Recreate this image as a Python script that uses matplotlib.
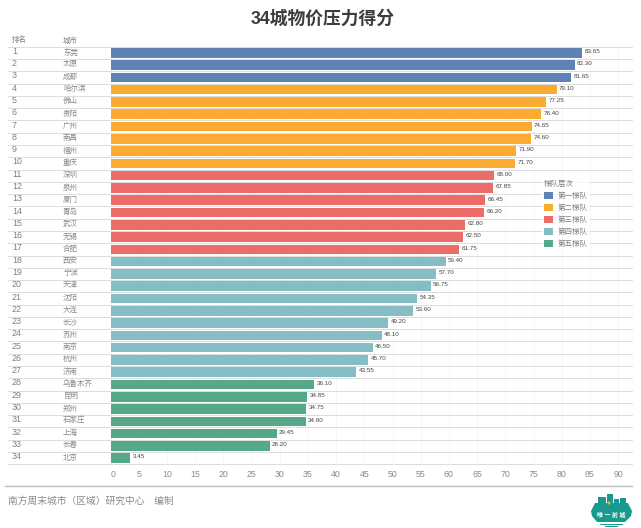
import matplotlib
matplotlib.use("Agg")
import matplotlib.pyplot as plt
from matplotlib.patches import Patch, Polygon, Rectangle, Circle

plt.rcParams['font.family'] = ['Liberation Sans', 'Noto Sans CJK SC', 'DejaVu Sans']

W, H = 641, 528
title = "34城物价压力得分"
cities = ["东莞","太原","成都","哈尔滨","佛山","贵阳","广州","南昌","福州","重庆","深圳","泉州",
          "厦门","青岛","武汉","无锡","合肥","西安","宁波","天津","沈阳","大连","长沙","苏州",
          "南京","杭州","济南","乌鲁木齐","昆明","郑州","石家庄","上海","长春","北京"]
values = [83.65,82.30,81.65,79.10,77.25,76.40,74.65,74.60,71.90,71.70,68.00,67.85,
          66.45,66.20,62.80,62.50,61.75,59.40,57.70,56.75,54.35,53.60,49.20,48.10,
          46.50,45.70,43.55,36.10,34.85,34.75,34.60,29.45,28.20,3.45]
tier_names = ["第一梯队","第二梯队","第三梯队","第四梯队","第五梯队"]
tier_counts = [3,7,7,10,7]
tier_colors = ["#5f82b4","#fbab32","#ec6d68","#85bdc5","#55a988"]
x_ticks = list(range(0,95,5))

fig = plt.figure(figsize=(W/100,H/100),dpi=100,facecolor="white")

# Plot area pixels: x=0 at 110.5, row block 46.7..464.3, right end 632
L,R,T,B = 110.5,632,46.7,464.3
ax = fig.add_axes([L/W,1-B/H,(R-L)/W,(B-T)/H])
ax.set_xlim(0,(R-L)/5.64)
ax.set_ylim(len(values),0)
for s in ax.spines.values():
    s.set_visible(False)
ax.set_facecolor("none")

tier_of = [i for i,n in enumerate(tier_counts) for _ in range(n)]
ypos = [i+0.5 for i in range(len(values))]
ax.set_axisbelow(True)
ax.grid(axis="x",color="#f3f3f3",lw=0.5)
ax.barh(ypos,values,height=0.78,color=[tier_colors[t] for t in tier_of],zorder=2)
for y,v in zip(ypos,values):
    ax.text(v+0.45,y-0.1,f"{v:.2f}",fontsize=4.5,color="#444444",va="center",ha="left",zorder=3)

ax.set_yticks([])
ax.set_xticks(x_ticks)
ax.tick_params(axis="x",length=0,pad=4,labelsize=6.3,labelcolor="#8a8a8a")
ax.get_xticklabels()[0].set_ha("left")

# Row rules extend left of the plot area into the rank and city columns
trans = ax.get_yaxis_transform()
for i in range(len(values)+1):
    ax.plot([(8-L)/(R-L),1],[i,i],transform=trans,color="#dcdcdc",lw=0.7,clip_on=False,zorder=1)
for i,c in enumerate(cities):
    ax.text((12-L)/(R-L),i+0.38,str(i+1),transform=trans,fontsize=6.4,color="#808080",va="center",ha="left",clip_on=False)
    ax.text((63-L)/(R-L),i+0.48,c,transform=trans,fontsize=5.4,color="#8a8a8a",va="center",ha="left",clip_on=False)

fig.text(12/W,1-40.5/H,"排名",fontsize=5.4,color="#808080",va="center",ha="left")
fig.text(63/W,1-41.5/H,"城市",fontsize=5.4,color="#808080",va="center",ha="left")
fig.text(322.5/W,1-19/H,title,fontsize=12.8,fontweight="bold",color="#3c3c3c",va="center",ha="center")

handles = [Patch(facecolor=c,label=n) for c,n in zip(tier_colors,tier_names)]
leg = fig.legend(handles=handles,title="梯队层次",loc="upper left",bbox_to_anchor=(542/W,1-178.5/H),
                 frameon=True,fontsize=5.4,title_fontsize=5.4,handlelength=1.15,handleheight=1.15,
                 handletextpad=0.75,labelspacing=0.5,borderpad=0.25,borderaxespad=0)
leg.get_frame().set_facecolor("white")
leg.get_frame().set_edgecolor("none")
leg.get_frame().set_alpha(0.75)
leg.get_title().set_color("#808080")
leg._legend_box.align = "left"
for t in leg.get_texts():
    t.set_color("#808080")

# Footer rule and credit
fig.add_artist(plt.Line2D([5/W,632/W],[1-485.5/H]*2,color="#bdbdbd",lw=1))
fig.text(8/W,1-500.5/H,"南方周末城市（区域）研究中心　编制",fontsize=7,color="#8a8a8a",va="center",ha="left")

# Logo
lx = fig.add_axes([0,0,1,1],facecolor="none")
lx.set_xlim(0,W); lx.set_ylim(H,0); lx.axis("off")
teal = "#1a9a8e"
for x,y,w,h in [(598,497,8,14),(607,494,6,17),(614,499,5,12),(620,498,6,13)]:
    lx.add_patch(Rectangle((x,y),w,h,color=teal,lw=0))
lx.add_patch(Polygon([(595,503),(628,503),(632,511),(631,516),(625,522),(597,522),(592,516),(591,511)],color=teal,lw=0))
lx.add_patch(Circle((609,503),1.5,color="#e2b13c",lw=0))
lx.text(611.5,515,"唯 一 前 城",fontsize=4.2,color="white",ha="center",va="center",fontweight="bold")
lx.add_patch(Rectangle((600,523.5),23,1,color=teal,lw=0))
lx.add_patch(Rectangle((605,526),13,1,color=teal,lw=0))

fig.savefig("out.png",dpi=100)
